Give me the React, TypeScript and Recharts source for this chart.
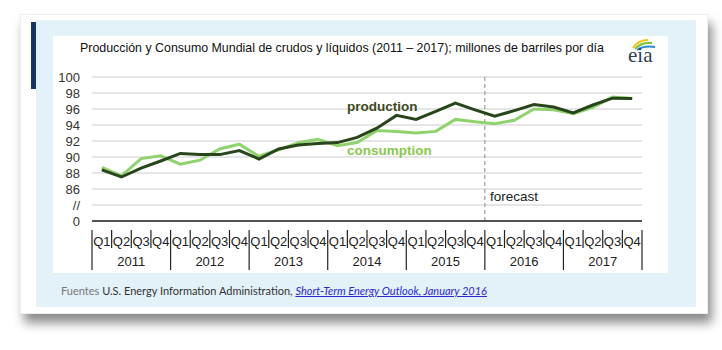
import React from 'react'
import { LineChart, Line, XAxis, YAxis, CartesianGrid, ReferenceLine } from 'recharts'

const years = [2011, 2012, 2013, 2014, 2015, 2016, 2017]
const quarters = ['Q1', 'Q2', 'Q3', 'Q4']
const production = [88.4, 87.5, 88.6, 89.5, 90.45, 90.3, 90.3, 90.8, 89.75, 91.0, 91.5, 91.7, 91.8, 92.45, 93.6, 95.2, 94.7, 95.7, 96.75, 95.9, 95.1, 95.8, 96.55, 96.25, 95.5, 96.5, 97.35, 97.3]
const consumption = [88.7, 87.65, 89.8, 90.15, 89.1, 89.6, 91.0, 91.6, 90.1, 90.9, 91.8, 92.2, 91.4, 91.8, 93.3, 93.2, 93.0, 93.2, 94.7, 94.4, 94.15, 94.6, 96.0, 95.9, 95.4, 96.2, 97.5, 97.3]
// broken axis: 82 stands for 0, 84 for the "//" gap
const yTicks = [82, 84, 86, 88, 90, 92, 94, 96, 98, 100]
const forecastStart = 19.5

const data = production.map((p, i) => ({
  i,
  year: years[Math.floor(i / 4)],
  q: quarters[i % 4],
  production: p,
  consumption: consumption[i],
}))

const CW = 615, CH = 237
const M = { top: 41, right: 26, left: 0, bottom: 0 }
const YW = 39
const BW = (CW - YW - M.right) / data.length
const font = '"Liberation Sans", Arial, sans-serif'

function QuarterTick(props: any) {
  const { x, y, payload } = props
  const i = payload.value
  const d = data[i]
  if (!d) return null
  const isQ1 = i % 4 === 0
  const left = x - BW / 2
  return (
    <g>
      <line x1={left} x2={left} y1={y + 9} y2={isQ1 ? y + 49 : y + 27} stroke="#222" strokeWidth={1.2} />
      {i === data.length - 1 && (
        <line x1={x + BW / 2} x2={x + BW / 2} y1={y + 9} y2={y + 49} stroke="#222" strokeWidth={1.2} />
      )}
      <text x={x} y={y + 25} textAnchor="middle" fontSize={13} fill="#222" fontFamily={font}>{d.q}</text>
      {i % 4 === 1 && (
        <text x={x + BW / 2} y={y + 45} textAnchor="middle" fontSize={13} fill="#222" fontFamily={font}>{d.year}</text>
      )}
    </g>
  )
}

function EiaLogo() {
  return (
    <svg width={36} height={30} style={{ position: 'absolute', left: 624, top: 37 }}>
      <path d="M9 11 Q14 3 24 3" stroke="#f2c318" strokeWidth={2} fill="none" />
      <path d="M11 12 Q17 5 28 6" stroke="#7cc242" strokeWidth={2} fill="none" />
      <path d="M13 13 Q20 8 31 10" stroke="#2a8fd0" strokeWidth={2} fill="none" />
      <text x={4} y={25} fontSize={21} fill="#2b3f57" fontFamily='"Liberation Serif", "DejaVu Serif", serif'>eia</text>
    </svg>
  )
}

export default function App() {
  return (
    <div style={{ position: 'absolute', left: 0, top: 0, width: 722, height: 350, background: '#fff', overflow: 'hidden', fontFamily: font }}>
      <div style={{ position: 'absolute', left: 20, top: 14, width: 686, height: 298, background: '#fff', boxShadow: '4px 9px 10px rgba(0,0,0,0.45)', border: '1px solid #eee' }} />
      <div style={{ position: 'absolute', left: 36, top: 20, width: 660, height: 287, background: '#e3f1f8' }} />
      <div style={{ position: 'absolute', left: 31, top: 22, width: 5, height: 67, background: '#17365d' }} />
      <div style={{ position: 'absolute', left: 53, top: 36, width: CW, height: CH, background: '#fff' }} />
      <div style={{ position: 'absolute', left: 80, top: 41, fontSize: 12.4, color: '#111', whiteSpace: 'nowrap' }}>
        Producción y Consumo Mundial de crudos y líquidos (2011 – 2017); millones de barriles por día
      </div>
      <EiaLogo />
      <div style={{ position: 'absolute', left: 53, top: 36 }}>
        <LineChart width={CW} height={CH} data={data} margin={M}>
          <CartesianGrid vertical={false} stroke="#dedede" strokeWidth={1.5} />
          <XAxis
            dataKey="i"
            type="number"
            domain={[-0.5, data.length - 0.5]}
            ticks={data.map(d => d.i)}
            interval={0}
            height={52}
            tickSize={0}
            tickMargin={0}
            tickLine={false}
            axisLine={{ stroke: '#222', strokeWidth: 1.5 }}
            tick={<QuarterTick />}
          />
          <YAxis
            domain={[82, 100]}
            ticks={yTicks}
            width={YW}
            axisLine={false}
            tickLine={false}
            tickMargin={6}
            interval={0}
            tick={{ fontSize: 13, fill: '#333', fontFamily: font }}
            tickFormatter={(v) => (v === 82 ? '0' : v === 84 ? '//' : String(v))}
          />
          <ReferenceLine x={forecastStart} stroke="#8a8a8a" strokeDasharray="4 3" strokeWidth={1} />
          <Line dataKey="consumption" stroke="#90d26e" strokeWidth={3} dot={false} isAnimationActive={false} />
          <Line dataKey="production" stroke="#28451b" strokeWidth={3} dot={false} isAnimationActive={false} />
        </LineChart>
      </div>
      <div style={{ position: 'absolute', left: 347, top: 99, fontSize: 13.5, fontWeight: 'bold', color: '#3b4a1d' }}>production</div>
      <div style={{ position: 'absolute', left: 347, top: 143, fontSize: 13.5, fontWeight: 'bold', color: '#8cc64f' }}>consumption</div>
      <div style={{ position: 'absolute', left: 490, top: 189, fontSize: 13.5, color: '#222' }}>forecast</div>
      <div style={{ position: 'absolute', left: 61, top: 284, fontSize: 11, fontFamily: 'Lato, "Open Sans", sans-serif', whiteSpace: 'nowrap' }}>
        <span style={{ color: '#777' }}>Fuentes </span>
        <span style={{ color: '#333' }}>U.S. Energy Information Administration, </span>
        <span style={{ color: '#2a2ad0', fontStyle: 'italic', textDecoration: 'underline' }}>Short-Term Energy Outlook, January 2016</span>
      </div>
    </div>
  )
}
